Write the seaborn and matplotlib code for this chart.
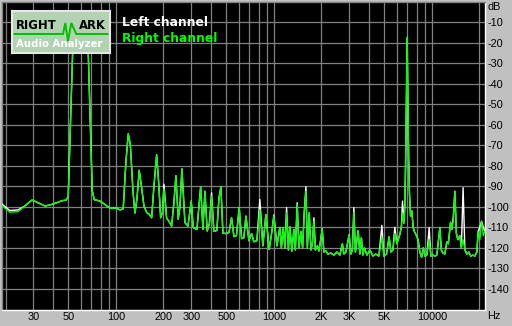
import matplotlib
matplotlib.use("Agg")
import matplotlib.pyplot as plt
import matplotlib.ticker as mticker
import numpy as np
import pandas as pd
import seaborn as sns

# ---------------- data ----------------
freq_hz = [19.0, 21.3, 24.0, 26.6, 29.4, 32.1, 35.6, 39.4, 42.9, 45.5,
           48.3, 49.9, 53.2, 59.8, 66.8, 70.8, 72.9, 79.2, 84.0, 89.0,
           93.9, 100, 106, 111.2, 115.7, 119.7, 123.5, 128.1, 131.9, 135.9,
           140.4, 145, 150.4, 156.4, 161.8, 168.3, 174, 181, 186.4, 191.9,
           196.8, 201.4, 209.4, 216.4, 225.2, 232.8, 239.8, 247.9, 254.2, 261.6,
           273.5, 285.8, 299.8, 308.6, 325.6, 343.8, 355.5, 365.9, 378.4, 390.8,
           403, 416.9, 435.5, 448.7, 462, 475.5, 496.9, 519.2, 539.7, 558.5,
           579.3, 602.9, 624.7, 645.6, 665.2, 695, 722.6, 746.7, 780, 815,
           851.5, 889.6, 933.8, 971, 1000, 1045, 1091, 1116, 1146, 1174,
           1203, 1236, 1262, 1300, 1339, 1368, 1404, 1440, 1483, 1520,
           1556, 1595, 1629, 1674, 1715, 1753, 1792, 1831, 1885, 1927,
           1970, 2022, 2073, 2134, 2197, 2295, 2398, 2505, 2617, 2714,
           2773, 2856, 2995, 3071, 3139, 3209, 3280, 3416, 3503, 3580,
           3659, 3740, 3879, 4052, 4233, 4422, 4620, 4826, 4967, 5166,
           5362, 5503, 5666, 5829, 6004, 6270, 6412, 6521, 6649, 6745,
           6826, 6976, 7132, 7215, 7328, 7471, 7616, 7748, 7924, 8183,
           8394, 8609, 8835, 9031, 9299, 9616, 9856, 10147, 10447, 10756,
           11237, 11483, 11740, 12087, 12444, 12718, 13134, 13388, 13684, 13985,
           14297, 14612, 15034, 15377, 15770, 16181, 16658, 17150, 17656, 18177,
           18720, 19266, 19630, 20122, 20640, 21190, 21644]

right_db = [-99.5, -102.6, -102.3, -99.5, -96.7, -98, -99.6, -98.8, -97.8, -97,
            -96.8, -95, -25, -7, -25, -92, -96.5, -97.2, -98.5, -100,
            -100.8, -100.5, -101.5, -101, -78, -64.4, -70, -92, -103, -96,
            -82.2, -90, -99.5, -102.7, -103.5, -105.3, -90, -74.6, -88, -105.3,
            -103, -91.2, -105.5, -107, -109.4, -98, -84.8, -106, -100, -81.5,
            -107.7, -109.4, -97.2, -110.1, -111, -90.2, -111, -92.4, -111.8, -108,
            -94.8, -112, -111.5, -96, -90.2, -112.8, -113, -112.5, -105.3, -114.5,
            -114, -100.4, -115.5, -115, -104.5, -116.5, -113, -117, -116.5, -101.3,
            -119, -103.8, -120.7, -112, -104.5, -119, -110, -120, -110.1, -120,
            -102.9, -121, -109.7, -121.5, -111, -121, -98.8, -120, -112, -120,
            -102.9, -92.4, -120, -102.9, -121, -118, -107, -121, -119, -121.5,
            -117, -110.6, -122, -121.5, -123, -122.5, -123.5, -122, -123.5, -118,
            -123, -122, -113.6, -123, -121, -102.5, -122, -111.6, -123, -115,
            -123.5, -120, -123.5, -121, -124, -123, -124, -114.6, -124, -123,
            -114.6, -122, -121, -113, -118, -113.4, -110, -102.9, -108, -99.7,
            -77, -17.3, -76.5, -93.2, -104.5, -102, -110, -112, -113.4, -116,
            -122, -124.6, -120, -124, -123.5, -116, -124, -123.5, -124, -123.5,
            -110.1, -121, -122.5, -123, -117, -118, -107.5, -111, -106, -92.4,
            -113, -116, -114, -120, -116, -121, -123, -122, -124, -123.5,
            -124, -122, -112, -116, -107, -114, -112]

left_db = [-98.7, -101.8, -101.5, -99.5, -96.7, -98, -99.6, -98.8, -97.8, -97,
           -96.8, -95, -25, -7, -25, -92, -96.5, -97.2, -98.5, -100,
           -100.8, -100.5, -101.5, -101, -78, -64.4, -70, -92, -103, -96,
           -82.2, -90, -99.5, -102.7, -103.5, -105.3, -90, -74.6, -88, -105.3,
           -103, -89, -105.5, -107, -109.4, -98, -84.8, -106, -100, -81.5,
           -107.7, -109.4, -97.2, -110.1, -111, -90.2, -111, -92.4, -111.8, -108,
           -93.2, -112, -111.5, -96, -90.2, -112.8, -113, -112.5, -105.3, -114.5,
           -114, -100.4, -115.5, -115, -104.5, -116.5, -113, -117, -116.5, -96.4,
           -119, -103.8, -120.7, -112, -104, -119, -110, -120, -110.1, -120,
           -100.4, -121, -109.7, -121.5, -111, -121, -98, -120, -112, -120,
           -102.9, -90.2, -120, -102.9, -121, -118, -105.3, -121, -119, -121.5,
           -117, -110.6, -122, -121.5, -123, -122.5, -123.5, -122, -123.5, -118,
           -123, -122, -113.6, -123, -121, -100.4, -122, -111.6, -123, -115,
           -123.5, -120, -123.5, -121, -124, -123, -124, -109, -124, -123,
           -114.6, -122, -121, -110, -118, -113.4, -110, -97.2, -108, -99.7,
           -77, -17.8, -76.5, -93.2, -104.5, -102, -110, -112, -113.4, -116,
           -122, -124.6, -120, -124, -123.5, -110.1, -124, -123.5, -124, -123.5,
           -110.1, -121, -122.5, -123, -117, -118, -107.5, -111, -104.5, -92.4,
           -113, -116, -114, -120, -90.7, -121, -123, -122, -124, -123.5,
           -124, -122, -112, -110, -107, -110, -112]

x_tick_values = [30, 50, 100, 200, 300, 500, 1000, 2000, 3000, 5000, 10000]
x_tick_labels = ["30", "50", "100", "200", "300", "500", "1000", "2K", "3K", "5K", "10000"]
x_grid_values = [20, 30, 40, 50, 60, 70, 80, 90,
                 100, 200, 300, 400, 500, 600, 700, 800, 900,
                 1000, 2000, 3000, 4000, 5000, 6000, 7000, 8000, 9000,
                 10000, 20000]
y_tick_values = [-10, -20, -30, -40, -50, -60, -70, -80, -90, -100, -110, -120, -130, -140]
y_tick_labels = [str(v) for v in y_tick_values]
channel_names = ["Left channel", "Right channel"]
channel_colors = ["#ffffff", "#00ff00"]

# ---------------- figure ----------------
W, H = 512, 326
fig = plt.figure(figsize=(W / 100, H / 100), dpi=100, facecolor="#c0c0c0")
ax = fig.add_axes([2 / W, 16.5 / H, 483 / W, 308 / H])
ax.set_facecolor("black")

n = len(freq_hz)
df = pd.DataFrame({
    "Frequency": freq_hz + freq_hz,
    "Level": left_db + right_db,
    "Channel": ["Left"] * n + ["Right"] * n,
})
sns.lineplot(data=df, x="Frequency", y="Level", hue="Channel",
             hue_order=["Left", "Right"],
             palette={"Left": channel_colors[0], "Right": channel_colors[1]},
             estimator=None, sort=False, linewidth=1.0, legend=False, ax=ax,
             zorder=3)

ax.set_xscale("log")
ax.set_xlim(19, 21700)
ax.set_ylim(-150, 0)
ax.set_xlabel("")
ax.set_ylabel("")

ax.xaxis.set_minor_locator(mticker.FixedLocator(x_grid_values))
ax.xaxis.set_minor_formatter(mticker.NullFormatter())
ax.set_xticks(x_tick_values)
ax.set_xticklabels(x_tick_labels)
ax.yaxis.tick_right()
ax.set_yticks(y_tick_values)
ax.set_yticklabels(y_tick_labels)
ax.yaxis.set_minor_locator(mticker.NullLocator())

tick_font = dict(family="Liberation Sans", size=7.8)
for lab in ax.get_xticklabels() + ax.get_yticklabels():
    lab.set_fontfamily(tick_font["family"])
    lab.set_fontsize(tick_font["size"])
    lab.set_color("black")
ax.tick_params(axis="both", which="both", length=0)
ax.tick_params(axis="x", pad=1.5)
ax.tick_params(axis="y", pad=1.5)

ax.grid(False)
for gx in x_grid_values:
    ax.axvline(gx, color="#808080", lw=0.9, zorder=1)
for gy in y_tick_values:
    ax.axhline(gy, color="#808080", lw=0.9, zorder=1)

for side in ["top", "left"]:
    ax.spines[side].set_color("#808080")
for side in ["bottom", "right"]:
    ax.spines[side].set_color("#ffffff")
for s in ax.spines.values():
    s.set_linewidth(1.0)

fig.text(488 / W, 1 - 7 / H, "dB", ha="left", va="center",
         family="Liberation Sans", size=7.8, color="black")
fig.text(487 / W, 1 - 316 / H, "Hz", ha="left", va="center",
         family="Liberation Sans", size=7.8, color="black")

# legend texts
fig.text(122 / W, 1 - 22.5 / H, channel_names[0], color=channel_colors[0],
         weight="bold", family="DejaVu Sans", size=8.8, ha="left", va="center")
fig.text(122 / W, 1 - 38.5 / H, channel_names[1], color=channel_colors[1],
         weight="bold", family="DejaVu Sans", size=8.8, ha="left", va="center")

# logo
lax = fig.add_axes([11.5 / W, 1 - 52.5 / H, 98 / W, 41 / H])
lax.set_xlim(0, 98)
lax.set_ylim(41, 0)
lax.set_facecolor("#b2d2b2")
lax.set_xticks([])
lax.set_yticks([])
for s in lax.spines.values():
    s.set_color("#e8e8e8")
    s.set_linewidth(1.5)
lax.plot([3, 51.5, 53.8, 56.5, 59.8, 64.8, 96],
         [22.5, 22.5, 11.5, 29.8, 11.5, 22.5, 22.5],
         color="#00c000", lw=1.4, solid_joinstyle="miter")
lax.text(4.8, 14.3, "RIGHT", color="black", weight="bold", family="DejaVu Sans",
         size=8.4, ha="left", va="center")
lax.text(67.2, 14.3, "ARK", color="black", weight="bold", family="DejaVu Sans",
         size=8.4, ha="left", va="center")
lax.text(4.8, 32.2, "Audio Analyzer", color="white", weight="bold",
         family="DejaVu Sans", size=7.3, ha="left", va="center")

fig.savefig("out.png", dpi=100, facecolor=fig.get_facecolor())
